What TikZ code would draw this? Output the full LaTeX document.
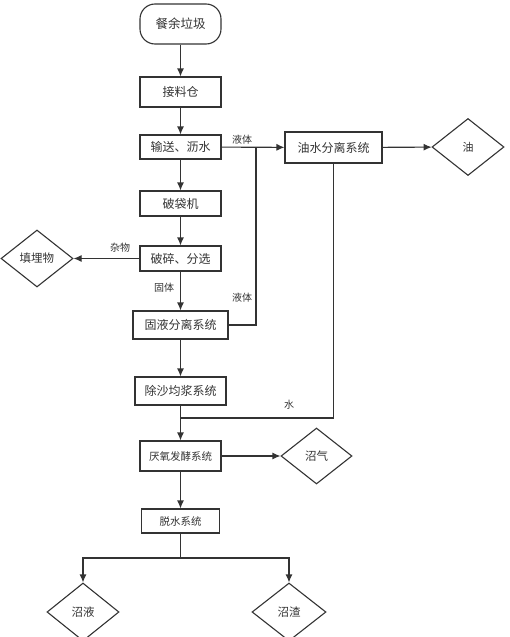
\documentclass[tikz,border=0pt]{standalone}
\usepackage{fontspec}
\setmainfont{Noto Sans CJK SC}
\usepackage{xcolor}
\definecolor{333333}{HTML}{333333}
\usetikzlibrary{shapes.geometric, arrows.meta}

\begin{document}
\begin{tikzpicture}[x=1pt, y=-1pt, line width=1.1pt, color=333333, >={Latex[length=8pt, width=7pt]},
    stage/.style={rectangle, draw, inner sep=0pt, minimum width=81pt, minimum height=25pt, font=\fontsize{12}{12}\selectfont},
    product/.style={diamond, draw, inner sep=0pt, minimum width=72pt, minimum height=57pt, font=\fontsize{11.5}{12}\selectfont},
    flowlabel/.style={font=\fontsize{10}{10}\selectfont}]
                        \useasboundingbox (0, 0) rectangle (510, 637);

                        \node (0) at (180.5, 24) [stage, rounded corners=15pt, minimum height=40pt, font=\fontsize{12.5}{12.5}\selectfont] {餐余垃圾};
                        \node (1) at (180.5, 92) [stage, minimum height=30pt] {接料仓};
                        \node (2) at (180.5, 147) [stage, minimum height=24pt] {输送、沥水};
                        \node (3) at (180.5, 203.5) [stage] {破袋机};
                        \node (4) at (180.5, 258.5) [stage] {破碎、分选};
                        \node (5) at (180.5, 325) [stage, minimum width=95pt, minimum height=28pt] {固液分离系统};
                        \node (6) at (180.5, 391) [stage, minimum width=91pt, minimum height=28pt] {除沙均浆系统};
                        \node (7) at (180.5, 456) [stage, minimum height=30pt, font=\fontsize{10.5}{10.5}\selectfont] {厌氧发酵系统};
                        \node (8) at (180.5, 521) [stage, minimum width=78pt, minimum height=24pt, font=\fontsize{10.5}{10.5}\selectfont] {脱水系统};
                        \node (9) at (333.5, 147.5) [stage, minimum width=97pt, minimum height=31pt] {油水分离系统};

                        \node (10) at (468, 147) [product, font=\fontsize{11}{11}\selectfont] {油};
                        \node (11) at (37, 258.5) [product] {填埋物};
                        \node (12) at (316.5, 456) [product, minimum width=71pt, minimum height=56pt] {沼气};
                        \node (13) at (83, 612) [product, minimum height=58pt] {沼液};
                        \node (14) at (289, 612) [product, minimum width=74pt, minimum height=58pt] {沼渣};

                        \coordinate (j1) at (256, 147);
                        \coordinate (j2) at (180.5, 418);
                        \coordinate (j3) at (180.5, 558);

                        \draw[->] (0) -- (1);
                        \draw[->] (1) -- (2);
                        \draw[->] (2) -- (3);
                        \draw[->] (3) -- (4);
                        \draw[->] (4) -- (5);
                        \draw[->] (5) -- (6);
                        \draw[->] (6) -- (7);
                        \draw[->] (7) -- (8);

                        \draw[->] (2) -- (9);
                        \draw[->] (9) -- (10);
                        \draw[->] (4) -- (11);
                        \draw[->] (7) -- (12);

                        \draw (5.east) -| (j1);
                        \draw (9.south) |- (j2);

                        \draw (8) -- (j3);
                        \draw[->] (j3) -| (13);
                        \draw[->] (j3) -| (14);

                        \node [flowlabel] at (242, 140) {液体};
                        \node [flowlabel] at (242, 298) {液体};
                        \node [flowlabel] at (120, 248) {杂物};
                        \node [flowlabel] at (164, 288) {固体};
                        \node [flowlabel] at (289, 405) {水};
                    \end{tikzpicture}
\end{document}
